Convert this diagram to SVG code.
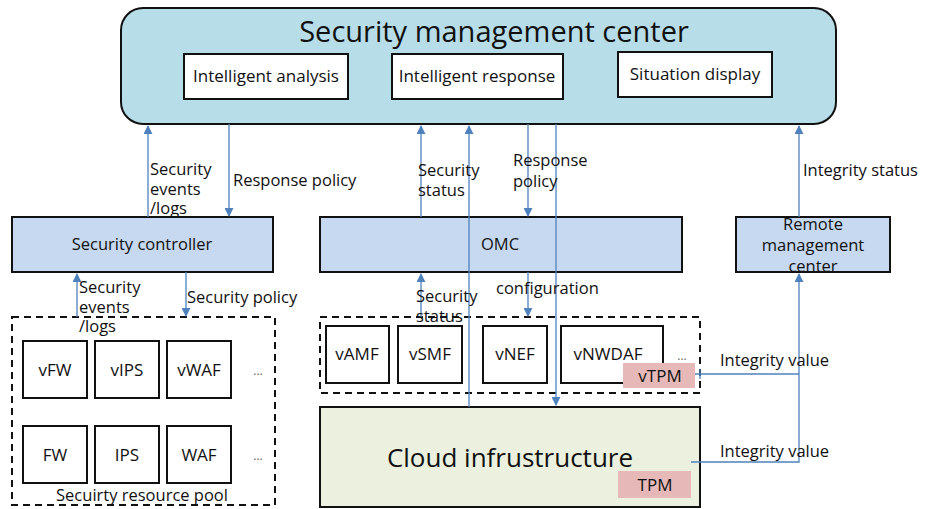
<svg xmlns="http://www.w3.org/2000/svg" width="927" height="509" viewBox="0 0 927 509">
<style>
text{font-family:"Open Sans","Noto Sans","Liberation Sans",sans-serif;fill:#111}
.lbl{font-size:16.5px}
.in{font-size:17px}
.box{fill:#fff;stroke:#111;stroke-width:2}
.bar{fill:#c6d9f0;stroke:#111;stroke-width:2}
.dash{fill:none;stroke:#111;stroke-width:2;stroke-dasharray:7 5}
.pink{fill:#e6b9b8}
.c{text-anchor:middle}
.ln{stroke:#4f81bd;stroke-width:1.3;fill:none}
</style>
<defs>
<marker id="ah" viewBox="0 0 10 10" refX="9" refY="5" markerWidth="9" markerHeight="9" markerUnits="userSpaceOnUse" orient="auto"><path d="M0,0L10,5L0,10z" fill="#4f81bd"/></marker>
</defs>
<rect width="927" height="509" fill="#fff"/>
<g id="smc">
<rect x="121" y="8" width="715" height="116" rx="22" fill="#b7dde8" stroke="#111" stroke-width="2"/>
<text x="494" y="42" class="c" style="font-size:29px">Security management center</text>
<rect x="184" y="54" width="164" height="45" class="box"/>
<text x="266" y="82" class="c in">Intelligent analysis</text>
<rect x="392" y="54" width="171" height="45" class="box"/>
<text x="477" y="82" class="c in">Intelligent response</text>
<rect x="618" y="52" width="154" height="45" class="box"/>
<text x="695" y="80" class="c in">Situation display</text>
</g>
<g id="security-controller">
<rect x="12" y="217" width="261" height="55" class="bar"/>
<text x="142" y="250" class="c lbl">Security controller</text>
</g>
<g id="omc">
<rect x="320" y="217" width="362" height="55" class="bar"/>
<text x="500" y="250" class="c lbl">OMC</text>
</g>
<g id="remote">
<rect x="736" y="217" width="154" height="55" class="bar"/>
<text x="813" y="230" class="c lbl">Remote</text>
<text x="813" y="251" class="c lbl">management</text>
<text x="813" y="272" class="c lbl">center</text>
</g>
<g id="pool">
<rect x="12" y="317" width="263" height="188" class="dash"/>
<rect x="23" y="341" width="64" height="57" class="box"/><text x="55" y="376" class="c in">vFW</text>
<rect x="95" y="341" width="64" height="57" class="box"/><text x="127" y="376" class="c in">vIPS</text>
<rect x="167" y="341" width="64" height="57" class="box"/><text x="199" y="376" class="c in">vWAF</text>
<text x="258" y="375" class="c" style="font-size:12px;fill:#666">...</text>
<rect x="23" y="426" width="64" height="57" class="box"/><text x="55" y="461" class="c in">FW</text>
<rect x="95" y="426" width="64" height="57" class="box"/><text x="127" y="461" class="c in">IPS</text>
<rect x="167" y="426" width="64" height="57" class="box"/><text x="199" y="461" class="c in">WAF</text>
<text x="258" y="460" class="c" style="font-size:12px;fill:#666">...</text>
<text x="142" y="501" class="c lbl">Secuirty resource pool</text>
</g>
<g id="vnf">
<rect x="320" y="317" width="380" height="76" class="dash"/>
<rect x="326" y="326" width="63" height="57" class="box"/><text x="357" y="360" class="c in">vAMF</text>
<rect x="398" y="326" width="64" height="57" class="box"/><text x="430" y="360" class="c in">vSMF</text>
<rect x="483" y="326" width="64" height="57" class="box"/><text x="515" y="360" class="c in">vNEF</text>
<rect x="561" y="326" width="102" height="57" class="box"/><text x="608" y="360" class="c in">vNWDAF</text>
<text x="682" y="360" class="c" style="font-size:12px;fill:#666">...</text>
<rect x="623" y="363" width="72" height="25" class="pink"/>
<text x="660" y="382" class="c in">vTPM</text>
</g>
<g id="cloud">
<rect x="320" y="407" width="380" height="100" fill="#ebf1de" stroke="#111" stroke-width="2"/>
<text x="510" y="467" class="c" style="font-size:26px">Cloud infrustructure</text>
<rect x="618" y="471" width="73" height="27" class="pink"/>
<text x="655" y="491" class="c in">TPM</text>
</g>
<g id="connectors">
<line x1="148" y1="217" x2="148" y2="126" class="ln" marker-end="url(#ah)"/>
<line x1="229" y1="124" x2="229" y2="216" class="ln" marker-end="url(#ah)"/>
<line x1="421" y1="217" x2="421" y2="126" class="ln" marker-end="url(#ah)"/>
<line x1="469" y1="407" x2="469" y2="126" class="ln" marker-end="url(#ah)"/>
<line x1="528" y1="124" x2="528" y2="216" class="ln" marker-end="url(#ah)"/>
<line x1="556" y1="124" x2="556" y2="405" class="ln" marker-end="url(#ah)"/>
<line x1="799" y1="217" x2="799" y2="126" class="ln" marker-end="url(#ah)"/>
<line x1="77" y1="317" x2="77" y2="274" class="ln" marker-end="url(#ah)"/>
<line x1="186" y1="272" x2="186" y2="316" class="ln" marker-end="url(#ah)"/>
<line x1="421" y1="317" x2="421" y2="274" class="ln" marker-end="url(#ah)"/>
<line x1="528" y1="272" x2="528" y2="316" class="ln" marker-end="url(#ah)"/>
<polyline points="691,462 799,462 799,274" class="ln" marker-end="url(#ah)"/>
<line x1="695" y1="374" x2="799" y2="374" class="ln"/>
<line x1="700" y1="369" x2="700" y2="379" class="ln"/>
</g>
<g id="labels">
<text x="150" y="175" class="lbl">Security</text>
<text x="150" y="195" class="lbl">events</text>
<text x="150" y="214" class="lbl">/logs</text>
<text x="233" y="186" class="lbl">Response policy</text>
<text x="418" y="176" class="lbl">Security</text>
<text x="418" y="196" class="lbl">status</text>
<text x="513" y="166" class="lbl">Response</text>
<text x="513" y="187" class="lbl">policy</text>
<text x="803" y="176" class="lbl">Integrity status</text>
<text x="79" y="293" class="lbl">Security</text>
<text x="79" y="313" class="lbl">events</text>
<text x="79" y="332" class="lbl">/logs</text>
<text x="187" y="303" class="lbl">Security policy</text>
<text x="416" y="302" class="lbl">Security</text>
<text x="416" y="322" class="lbl">status</text>
<text x="496" y="294" class="lbl">configuration</text>
<text x="720" y="366" class="lbl">Integrity value</text>
<text x="720" y="457" class="lbl">Integrity value</text>
</g>
</svg>
